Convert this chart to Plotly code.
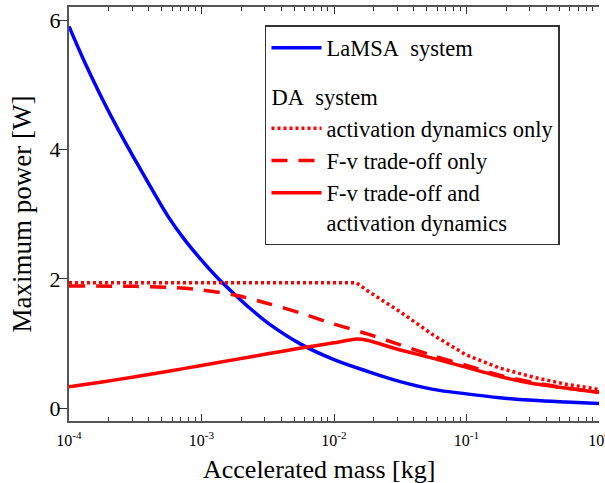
import plotly.graph_objects as go

# ---- data ----
lamsa_mass = [1e-4, 1.33e-4, 1.78e-4, 2.37e-4, 3.16e-4, 4.22e-4, 5.62e-4, 7.50e-4, 1e-3, 1.33e-3,
              1.78e-3, 2.37e-3, 3.16e-3, 5.62e-3, 1e-2, 1.78e-2, 3.16e-2, 5.62e-2, 0.1, 0.178, 0.316, 0.562, 1.0]
lamsa_power = [5.91, 5.33, 4.79, 4.30, 3.84, 3.39, 2.96, 2.60, 2.29, 2.01,
               1.76, 1.53, 1.32, 0.99, 0.75, 0.57, 0.41, 0.29, 0.22, 0.16, 0.12, 0.093, 0.07]

act_mass = [1e-4, 1e-3, 1e-2, 0.0148, 0.0178, 0.0316, 0.0562, 0.1, 0.178, 0.316, 0.562, 1.0]
act_power = [1.94, 1.94, 1.94, 1.94, 1.82, 1.49, 1.13, 0.82, 0.62, 0.48, 0.37, 0.29]

fv_mass = [1e-4, 3.16e-4, 5.62e-4, 1e-3, 1.78e-3, 3.16e-3, 5.62e-3, 1e-2, 1.78e-2,
           3.16e-2, 5.62e-2, 0.1, 0.178, 0.316, 0.562, 1.0]
fv_power = [1.89, 1.885, 1.87, 1.83, 1.75, 1.62, 1.47, 1.30, 1.15,
            0.98, 0.81, 0.66, 0.51, 0.40, 0.31, 0.25]

both_mass = [1e-4, 1.78e-4, 3.16e-4, 5.62e-4, 1e-3, 1.78e-3, 3.16e-3, 5.62e-3, 1e-2,
             0.0148, 0.0178, 0.0316, 0.0562, 0.1, 0.178, 0.316, 0.562, 1.0]
both_power = [0.33, 0.405, 0.485, 0.57, 0.66, 0.75, 0.84, 0.93, 1.01,
              1.07, 1.05, 0.90, 0.77, 0.63, 0.49, 0.38, 0.31, 0.24]

x_tickvals = [1e-4, 1e-3, 1e-2, 1e-1, 1.0]
x_ticktext = ["10<sup>-4</sup>", "10<sup>-3</sup>", "10<sup>-2</sup>", "10<sup>-1</sup>", "10<sup>0</sup>"]
x_minor = [m * d for d in [1e-4, 1e-3, 1e-2, 1e-1] for m in range(2, 10)]
y_tickvals = [0, 2, 4, 6]

FONT = "Liberation Serif"
BLUE = "#0000ff"
RED = "#ff0000"
FRAME = "#555555"

fig = go.Figure()
fig.add_trace(go.Scatter(x=lamsa_mass, y=lamsa_power, mode="lines", line=dict(color=BLUE, width=3.5, shape="spline", smoothing=1.0),
                         name="LaMSA\u00a0 system", legendgroup="lamsa"))
fig.add_trace(go.Scatter(x=act_mass, y=act_power, mode="lines", line=dict(color=RED, width=3.5, dash="3px,3px"),
                         name="activation dynamics only", legendgroup="da",
                         legendgrouptitle=dict(text="DA\u00a0 system", font=dict(family=FONT, size=22.5, color="black"))))
fig.add_trace(go.Scatter(x=fv_mass, y=fv_power, mode="lines", line=dict(color=RED, width=3.5, dash="16px,11px", shape="spline", smoothing=0.8),
                         name="F-v trade-off only", legendgroup="da"))
fig.add_trace(go.Scatter(x=both_mass, y=both_power, mode="lines", line=dict(color=RED, width=3.5, shape="spline", smoothing=0.5),
                         name="F-v trade-off and<br>activation dynamics", legendgroup="da"))

fig.update_layout(
    width=605, height=483,
    margin=dict(l=69, r=6, t=7, b=62, autoexpand=False),
    paper_bgcolor="white", plot_bgcolor="white",
    font=dict(family=FONT, color="black"),
    showlegend=True,
    legend=dict(x=0.3698, y=0.9565, xanchor="left", yanchor="top",
                bgcolor="white", bordercolor="#333333", borderwidth=1.5,
                font=dict(family=FONT, size=22.5, color="black"),
                itemwidth=50, valign="top", tracegroupgap=16, traceorder="grouped"),
    xaxis=dict(type="log", range=[-4, 0], showline=True, linecolor=FRAME, linewidth=2, mirror="allticks",
               ticks="inside", ticklen=7, tickcolor="#333333", tickwidth=1.2, automargin=False,
               ticklabeloverflow="allow", ticklabelstandoff=4,
               tickvals=x_tickvals, ticktext=x_ticktext, tickfont=dict(family=FONT, size=16),
               minor=dict(ticks="inside", ticklen=4, tickvals=x_minor, tickcolor="#333333", tickwidth=1.2),
               showgrid=False, zeroline=False),
    yaxis=dict(range=[-0.2, 6.21], showline=True, linecolor=FRAME, linewidth=2, automargin=False,
               ticks="outside", ticklen=8, tickcolor="#333333", tickwidth=1.2, ticklabelstandoff=-6,
               tickvals=y_tickvals, tickfont=dict(family=FONT, size=22),
               title=dict(text="Maximum power [W]", font=dict(family=FONT, size=27), standoff=10),
               showgrid=False, zeroline=False),
    yaxis2=dict(range=[-0.2, 6.21], overlaying="y", side="right", showline=True, linecolor=FRAME, linewidth=2,
                ticks="inside", ticklen=5, tickcolor="#333333", tickwidth=1.2, automargin=False,
                tickvals=y_tickvals, showticklabels=False, showgrid=False, zeroline=False),
    annotations=[dict(text="Accelerated mass [kg]", x=0.4717, y=-0.116, xref="paper", yref="paper",
                      xanchor="center", yanchor="middle", showarrow=False,
                      font=dict(family=FONT, size=26, color="black"))],
)

fig.write_html("out.html", config={"displayModeBar": False},
               post_script="document.body.style.margin='0';document.body.style.padding='0';")
